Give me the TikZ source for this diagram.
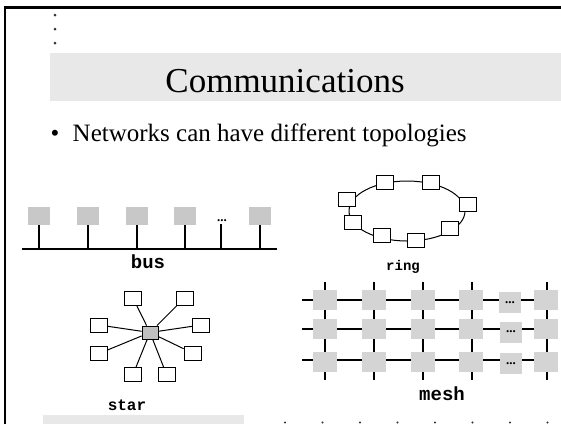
\documentclass[tikz,border=0pt]{standalone}
\usepackage{fontspec}
\setmainfont{Liberation Serif}
\newfontfamily\labelmono{Liberation Mono}
\definecolor{bandgray}{HTML}{E8E8E8}
\definecolor{busgray}{HTML}{C8C8C8}
\definecolor{meshgray}{HTML}{D4D4D4}
\definecolor{hubgray}{HTML}{C0C0C0}
\begin{document}
\begin{tikzpicture}[x=1pt,y=-1pt,
  busbox/.style={rectangle, fill=busgray, minimum width=22pt, minimum height=18pt, inner sep=0pt},
  meshbox/.style={rectangle, fill=meshgray, minimum width=24pt, minimum height=20pt, inner sep=0pt},
  ellip/.style={font=\bfseries\fontsize{13}{13}\selectfont, inner sep=0pt},
  dotbox/.style={rectangle, fill=meshgray, minimum width=22pt, minimum height=21pt, inner sep=0pt,
                 font=\bfseries\fontsize{13}{13}\selectfont},
  hostbox/.style={rectangle, draw, fill=white, line width=0.8pt, minimum width=17pt, minimum height=14pt, inner sep=0pt},
  hubbox/.style={rectangle, draw, fill=hubgray, line width=0.8pt, minimum width=16pt, minimum height=13pt, inner sep=0pt},
  wire/.style={line width=1.2pt},
  toplabel/.style={font=\labelmono\bfseries\fontsize{#1}{#1}\selectfont, inner sep=0pt}
]
\useasboundingbox (0,0) rectangle (561,424);
\fill[white] (0,0) rectangle (561,424);

% slide frame
\draw[line width=2.6pt] (5,424) -- (5,7.5) -- (561,7.5);

% vertical ellipsis
\foreach \y in {15,29,43} \fill[black!80] (55,\y) circle (1.5);

% title band
\fill[bandgray] (50,53) rectangle (561,100.5);
\node[anchor=base, inner sep=0pt, font=\fontsize{35}{40}\selectfont] (title) at (285,92) {Communications};

% bullet line
\node[anchor=base, inner sep=0pt, font=\fontsize{25}{30}\selectfont] (dot) at (55,141.5) {\textbullet};
\node[anchor=base west, inner sep=0pt, font=\fontsize{25}{30}\selectfont] (item) at (72.5,141.5) {Networks can have different topologies};

% ---------- bus ----------
\coordinate (busL) at (22,249);
\coordinate (busR) at (277,249);
\draw[wire] (busL) -- (busR);
\node[busbox] (b1) at (39,216) {};
\node[busbox] (b2) at (88,216) {};
\node[busbox] (b3) at (137,216) {};
\node[busbox] (b4) at (185,216) {};
\node[busbox] (b5) at (260,216) {};
\node[ellip, anchor=base] (bdots) at (222,221) {...};
\coordinate (bstem) at (221,224);
\foreach \b in {b1,b2,b3,b4,b5} \draw[wire] (\b.south) -- (\b.south |- busL);
\draw[wire] (bstem) -- (bstem |- busL);
\node[toplabel=19] (buslbl) at (148,262) {bus};

% ---------- ring ----------
\draw[line width=1pt] (407,211) ellipse [x radius=58, y radius=30];
\node[hostbox] (r1) at (347,199) {};
\node[hostbox] (r2) at (384.5,182.5) {};
\node[hostbox] (r3) at (430.5,182.5) {};
\node[hostbox] (r4) at (467.5,204) {};
\node[hostbox] (r5) at (449.5,228.5) {};
\node[hostbox] (r6) at (416,240) {};
\node[hostbox] (r7) at (381.5,235.5) {};
\node[hostbox] (r8) at (353,222) {};
\node[toplabel=14] (ringlbl) at (403,267) {ring};

% ---------- star ----------
\node[hubbox] (hub) at (150,332.5) {};
\node[hostbox] (s1) at (133,298) {};
\node[hostbox] (s2) at (184.5,298) {};
\node[hostbox] (s3) at (99,325) {};
\node[hostbox] (s4) at (201,325) {};
\node[hostbox] (s5) at (99,353.5) {};
\node[hostbox] (s6) at (192.5,353) {};
\node[hostbox] (s7) at (133,374.5) {};
\node[hostbox] (s8) at (166.5,374.5) {};
\foreach \s in {s1,s2,s3,s4,s5,s6,s7,s8} \draw[line width=1pt] (hub) -- (\s);
\node[toplabel=16] (starlbl) at (127,405) {star};

% ---------- mesh ----------
\foreach \r/\y in {1/300,2/329,3/360} {
  \coordinate (mL\r) at (302,\y);
  \coordinate (mR\r) at (557,\y);
  \draw[wire] (mL\r) -- (mR\r);
}
\foreach \c/\x in {1/325,2/374,3/423,4/472,5/547} {
  \coordinate (mT\c) at (\x,282);
  \coordinate (mB\c) at (\x,380);
  \draw[wire] (mT\c) -- (mB\c);
}
\foreach \c/\x in {1/325,2/374,3/422.5,4/471,5/545.5}
  \foreach \r/\y in {1/300,2/328.5,3/362}
    \node[meshbox] (m\c\r) at (\x,\y) {};
\node[dotbox] (md1) at (510,302.5) {...};
\node[dotbox] (md2) at (511,332) {...};
\node[dotbox] (md3) at (511,363.5) {...};
\node[toplabel=19] (meshlbl) at (442,394) {mesh};

% bottom strip of the next slide
\fill[bandgray] (43,415) rectangle (244,424);
\foreach \x in {285,322.5,...,548} \fill[black!80] (\x,422.5) circle (1.2);
\end{tikzpicture}
\end{document}
